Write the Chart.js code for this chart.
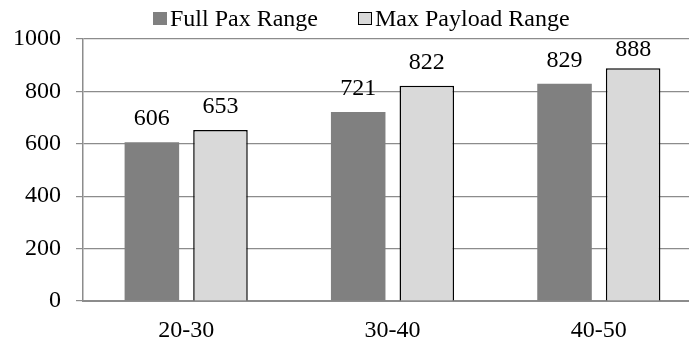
<!DOCTYPE html>
<html>
<head>
<meta charset="utf-8">
<script src="https://cdn.jsdelivr.net/npm/chart.js@4/dist/chart.umd.min.js"></script>
<style>
  html, body { margin: 0; padding: 0; background: #fff; overflow: hidden; }
  #wrap { width: 689px; height: 345px; overflow: hidden; }
  canvas { display: block; }
</style>
</head>
<body>
<div id="wrap"><canvas id="chart" width="710" height="345"></canvas></div>
<script>
// Range by seat class
const categories = ['20-30', '30-40', '40-50'];
const fullPaxRange = [606, 721, 829];
const maxPayloadRange = [653, 822, 888];
const seriesNames = ['Full Pax Range', 'Max Payload Range'];
const yTickValues = [0, 200, 400, 600, 800, 1000];

const FONT = '"Liberation Serif", "Times New Roman", serif';
const FONT_SIZE = 24;
const DARK = '#808080';
const LIGHT = '#d9d9d9';
const GRID = '#8c8c8c';

// Value labels above each bar, kept inside the plot area
const valueLabels = {
  id: 'valueLabels',
  afterDatasetsDraw(chart) {
    const ctx = chart.ctx;
    const top = chart.chartArea.top;
    ctx.save();
    ctx.font = FONT_SIZE + 'px ' + FONT;
    ctx.fillStyle = '#000';
    ctx.textAlign = 'center';
    ctx.textBaseline = 'alphabetic';
    chart.data.datasets.forEach((ds, di) => {
      const meta = chart.getDatasetMeta(di);
      meta.data.forEach((bar, i) => {
        const base = Math.max(bar.y - 17, top + 17);
        ctx.fillText(String(ds.data[i]), bar.x, base);
      });
    });
    ctx.restore();
  }
};

// Legend drawn with a tight box-to-text gap
const topLegend = {
  id: 'topLegend',
  afterDraw(chart) {
    const ctx = chart.ctx;
    ctx.save();
    ctx.font = FONT_SIZE + 'px ' + FONT;
    ctx.textBaseline = 'middle';
    ctx.textAlign = 'left';
    let x = 153;
    const yMid = 18.5;
    chart.data.datasets.forEach((ds, i) => {
      const bw = 14, bh = 13;
      ctx.fillStyle = ds.backgroundColor;
      ctx.fillRect(x, yMid - bh / 2, bw, bh);
      if (ds.borderWidth) {
        ctx.strokeStyle = ds.borderColor;
        ctx.lineWidth = 1;
        ctx.strokeRect(x + 0.5, yMid - bh / 2 + 0.5, bw - 1, bh - 1);
      }
      x += bw + 3;
      ctx.fillStyle = '#000';
      ctx.fillText(ds.label, x, yMid + 1);
      x += ctx.measureText(ds.label).width + 40;
    });
    ctx.restore();
  }
};

new Chart(document.getElementById('chart'), {
  type: 'bar',
  data: {
    labels: categories,
    datasets: [
      {
        label: seriesNames[0],
        data: fullPaxRange,
        backgroundColor: DARK,
        borderWidth: 0,
        categoryPercentage: 0.665,
        barPercentage: 0.795
      },
      {
        label: seriesNames[1],
        data: maxPayloadRange,
        backgroundColor: LIGHT,
        borderColor: '#000',
        borderWidth: 1.5,
        categoryPercentage: 0.665,
        barPercentage: 0.795
      }
    ]
  },
  options: {
    responsive: false,
    animation: false,
    layout: { padding: { top: 39, right: 8, bottom: 2, left: 0 } },
    plugins: {
      legend: { display: false },
      tooltip: { enabled: false }
    },
    scales: {
      x: {
        afterFit(scale) { scale.height = 42; },
        grid: { display: false, drawTicks: false },
        border: { display: true, color: GRID, width: 2 },
        ticks: {
          color: '#000',
          padding: 15,
          font: { family: FONT, size: FONT_SIZE }
        }
      },
      y: {
        min: 0,
        max: 1000,
        afterBuildTicks(scale) {
          scale.ticks = yTickValues.map(v => ({ value: v }));
        },
        afterFit(scale) { scale.width = 83; },
        grid: { color: GRID, lineWidth: 1.2, tickLength: 7, drawTicks: true },
        border: { display: true, color: GRID, width: 1.5 },
        ticks: {
          color: '#000',
          padding: 15,
          font: { family: FONT, size: FONT_SIZE },
          callback: (v) => String(v)
        }
      }
    }
  },
  plugins: [valueLabels, topLegend]
});
</script>
</body>
</html>
